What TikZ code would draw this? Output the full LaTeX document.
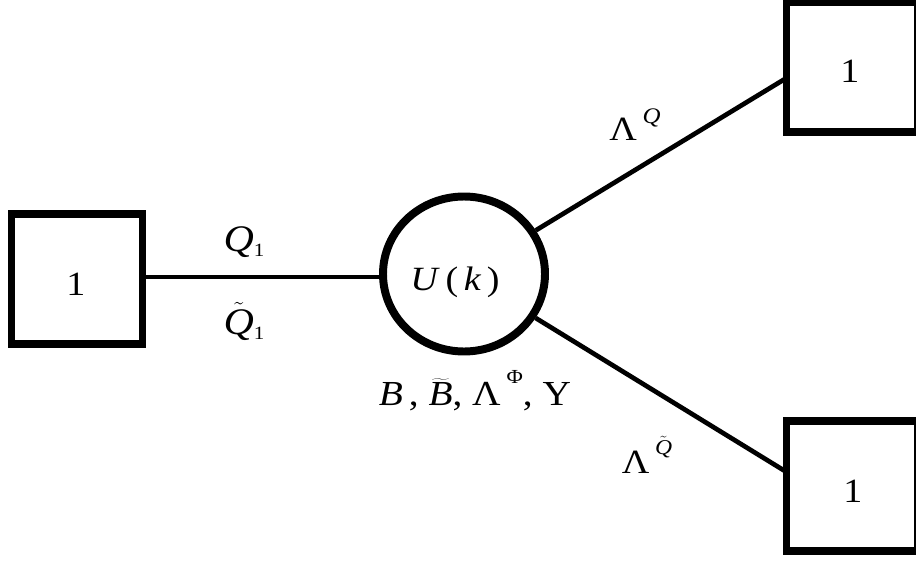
\documentclass[tikz,border=0pt]{standalone}
\usepackage{fontspec}
\setmainfont{Liberation Serif}[FakeStretch=1.12]
\usetikzlibrary{shapes.geometric}
\newcommand{\fsz}[1]{\fontsize{#1}{#1}\selectfont}
\newcommand{\tQ}{$\tilde{\mbox{\textit{Q}}}$}
\begin{document}
\begin{tikzpicture}[x=0.03cm,y=-0.03cm,
  boxnode/.style={draw,line width=6.2pt,minimum width=131*0.03cm,minimum height=130*0.03cm,inner sep=0pt},
  gaugenode/.style={draw,ellipse,line width=6.8pt,minimum width=162*0.03cm,minimum height=155*0.03cm,inner sep=0pt},
  edge/.style={line width=4pt},
  lbl/.style={inner sep=0pt,anchor=base,font=\fsz{30}},
  digit/.style={inner sep=0pt,anchor=base,font=\fsz{29}}]
\useasboundingbox (0,0) rectangle (916,561);
\node[boxnode] (L) at (77,279) {};
\node[boxnode] (TR) at (852,67) {};
\node[boxnode] (BR) at (852,486) {};
\node[digit] (dL) at (76,295) {1};
\node[digit] (dTR) at (850,82) {1};
\node[digit] (dBR) at (853,502) {1};
\node[gaugenode] (G) at (464,274) {};
\coordinate (TRin) at (786.5,78);
\coordinate (BRin) at (786.5,472);
\draw[edge] (L.east |- 0,277) -- (G.west |- 0,277);
\draw[edge] (G) -- (TRin);
\draw[edge] (G) -- (BRin);
\node[lbl,font=\fsz{29}] (U) at (455,290) {\textit{U}\,(\,\textit{k}\,)};
\node[lbl,font=\fsz{32}] (q1) at (244,251) {\textit{Q}\raisebox{-0.15em}{\fsz{16}1}};
\node[lbl,font=\fsz{32}] (q1t) at (244,334) {\tQ\raisebox{-0.15em}{\fsz{16}1}};
\node[lbl,font=\fsz{29}] (lq) at (635,140) {Λ\,\raisebox{0.5em}{\fsz{19}\textit{Q}}};
\node[lbl,font=\fsz{29}] (lqt) at (647,473) {Λ\,\raisebox{0.55em}{\fsz{18}\tQ}};
\node[lbl,font=\fsz{30}] (fields) at (475,405) {\textit{B}\,, $\widetilde{\mbox{\textit{B}}}$, Λ\,\raisebox{0.6em}{\fsz{17}Φ}, Υ};
\end{tikzpicture}
\end{document}
